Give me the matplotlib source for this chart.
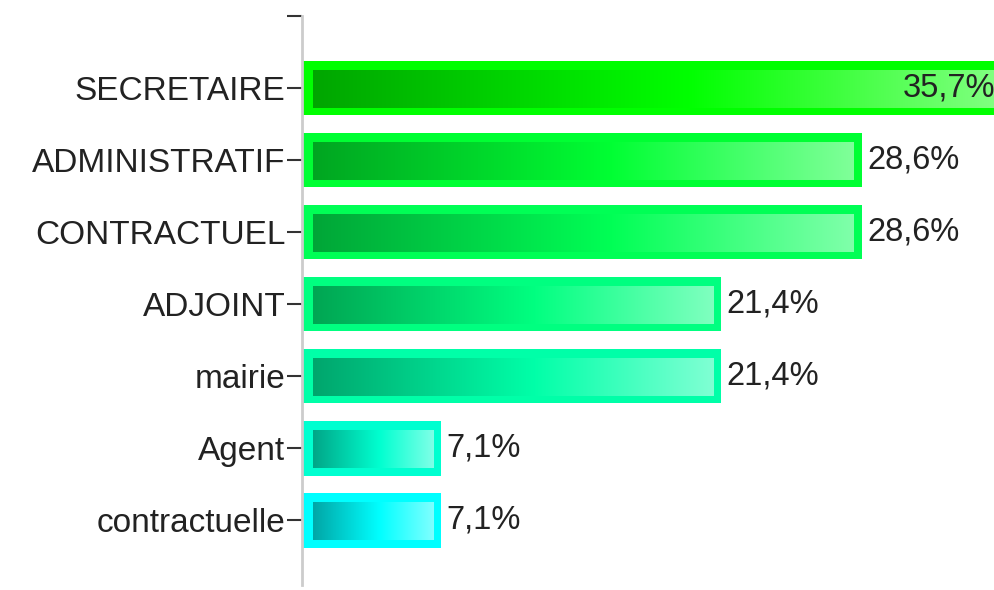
import numpy as np
import matplotlib.pyplot as plt
from matplotlib.colors import to_rgb

categories = ["SECRETAIRE", "ADMINISTRATIF", "CONTRACTUEL", "ADJOINT",
              "mairie", "Agent", "contractuelle"]
values = [35.7, 28.6, 28.6, 21.4, 21.4, 7.1, 7.1]
labels = ["35,7%", "28,6%", "28,6%", "21,4%", "21,4%", "7,1%", "7,1%"]
colors = ["#00ff00", "#00ff33", "#00ff55", "#00ff80",
          "#00ffa8", "#00ffd0", "#00ffff"]

plt.rcParams["font.family"] = ["Liberation Sans", "DejaVu Sans"]

fig = plt.figure(figsize=(9.95, 5.9), dpi=100)
ax = fig.add_axes([302 / 995, 5 / 590, 693 / 995, 569 / 590])

xmax = 693 / 19.58
ax.set_xlim(0, xmax)
ax.set_ylim(len(categories) - 0.1, -1)

bar_h = 0.76
# inner gradient rectangle insets (data units)
ins_left, ins_right = 0.56, 0.41
ins_top, ins_bot = 0.14, 0.10


def gradient_for(color):
    c = np.array(to_rgb(color))
    dark = c * 0.65
    light = c + (1 - c) * 0.5
    t = np.linspace(0, 1, 256)
    rows = []
    for tt in t:
        if tt < 0.55:
            rows.append(dark + (c - dark) * (tt / 0.55))
        else:
            rows.append(c + (light - c) * ((tt - 0.55) / 0.45))
    return np.array(rows)[None, :, :]


for i, (v, col, lab) in enumerate(zip(values, colors, labels)):
    ax.barh(i, v, height=bar_h, color=col, edgecolor="none", zorder=2)
    x0, x1 = ins_left, v - ins_right
    y_top = i - bar_h / 2 + ins_top
    y_bot = i + bar_h / 2 - ins_bot
    ax.imshow(gradient_for(col), extent=[x0, x1, y_bot, y_top],
              aspect="auto", zorder=3, interpolation="bilinear")
    if v + 3.5 > xmax:
        ax.text(xmax, i, lab, ha="right", va="center",
                fontsize=23.5, color="#222222", zorder=4)
    else:
        ax.text(v + 0.25, i, lab, ha="left", va="center",
                fontsize=23.5, color="#222222", zorder=4)

ax.set_xlim(0, xmax)
ax.set_ylim(len(categories) - 0.1, -1)
ax.set_yticks(range(-1, len(categories)))
ax.set_yticklabels([""] + categories, fontsize=24, color="#222222")
ax.tick_params(axis="y", length=11, width=1.5, color="#333333", pad=1)
ax.set_xticks([])

for side in ["top", "right", "bottom"]:
    ax.spines[side].set_visible(False)
ax.spines["left"].set_color("#cccccc")
ax.spines["left"].set_linewidth(2)

fig.savefig("out.png", dpi=100)
